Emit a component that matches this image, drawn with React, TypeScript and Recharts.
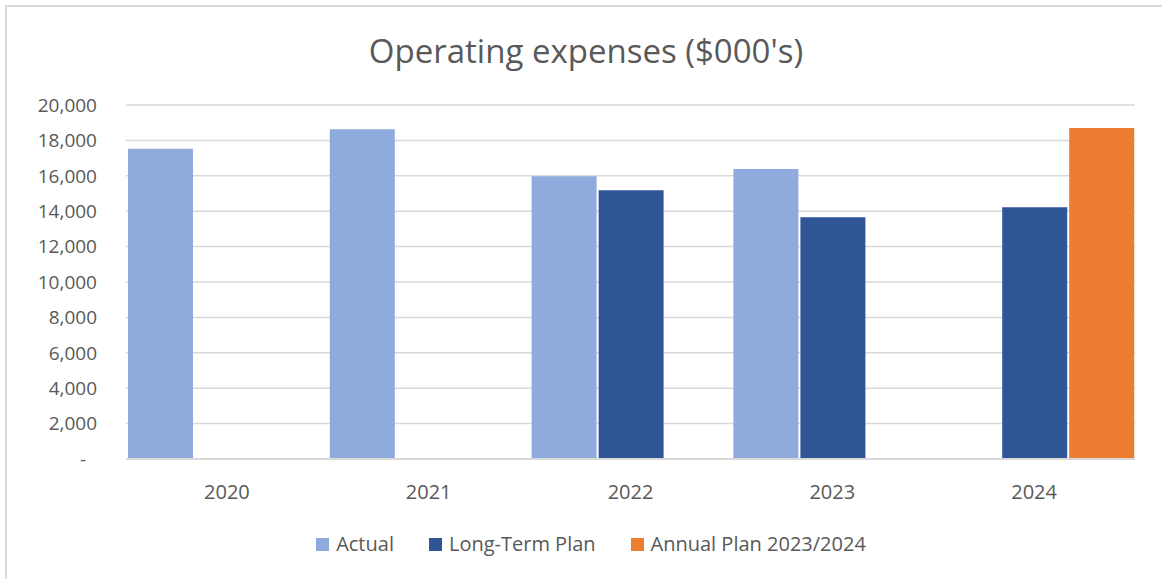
import React from "react";
import { BarChart, Bar, XAxis, YAxis, CartesianGrid } from "recharts";

const years = ["2020", "2021", "2022", "2023", "2024"];
const actual = [17530, 18630, 15970, 16380, null];
const longTermPlan = [null, null, 15180, 13660, 14220];
const annualPlan = [null, null, null, null, 18700];
const yTicks = [0, 2000, 4000, 6000, 8000, 10000, 12000, 14000, 16000, 18000, 20000];

const seriesNames = ["Actual", "Long-Term Plan", "Annual Plan 2023/2024"];
const seriesColors = ["#8faadc", "#2f5597", "#ed7d31"];

const data = years.map((y, i) => ({
  year: y,
  actual: actual[i],
  ltp: longTermPlan[i],
  annual: annualPlan[i],
}));

const FONT = "'Open Sans', 'Liberation Sans', sans-serif";
const TEXT = "#595959";

const YTick = (props: any) => {
  const { x, y, payload } = props;
  const v = payload.value as number;
  const label = v === 0 ? "-" : v.toLocaleString("en-US");
  return (
    <text
      x={v === 0 ? x - 11 : x}
      y={y}
      dy="0.355em"
      textAnchor="end"
      fill={TEXT}
      fontSize={19}
      fontFamily={FONT}
    >
      {label}
    </text>
  );
};

export default function App() {
  return (
    <div
      style={{
        position: "absolute",
        left: 0,
        top: 0,
        width: 1162,
        height: 579,
        background: "#ffffff",
        overflow: "hidden",
      }}
    >
      <div
        style={{
          position: "absolute",
          left: 5,
          top: 5,
          width: 1200,
          height: 620,
          borderTop: "2px solid #d9d9d9",
          borderLeft: "2px solid #d9d9d9",
        }}
      />
      <div
        style={{
          position: "absolute",
          left: 0,
          width: 1172,
          top: 29,
          textAlign: "center",
          fontFamily: FONT,
          fontSize: 33,
          color: TEXT,
          lineHeight: "44px",
          whiteSpace: "nowrap",
        }}
      >
        Operating expenses ($000's)
      </div>
      <div style={{ position: "absolute", left: 0, top: 0 }}>
        <BarChart
          width={1162}
          height={579}
          data={data}
          margin={{ top: 105, right: 27, bottom: 90, left: 0 }}
          barCategoryGap={2}
          barGap={2}
        >
          <CartesianGrid
            vertical={false}
            stroke="#d9d9d9"
            strokeWidth={1.5}
          />
          <XAxis
            dataKey="year"
            height={30}
            tickLine={false}
            tickSize={0}
            tickMargin={26}
            axisLine={{ stroke: "#d9d9d9", strokeWidth: 2 }}
            tick={{ fill: TEXT, fontSize: 20, fontFamily: FONT }}
          />
          <YAxis
            width={126}
            domain={[0, 20000]}
            ticks={yTicks}
            interval={0}
            axisLine={false}
            tickLine={false}
            tickSize={0}
            tickMargin={29}
            tick={<YTick />}
          />
          <Bar dataKey="actual" name={seriesNames[0]} fill={seriesColors[0]} isAnimationActive={false} />
          <Bar dataKey="ltp" name={seriesNames[1]} fill={seriesColors[1]} isAnimationActive={false} />
          <Bar dataKey="annual" name={seriesNames[2]} fill={seriesColors[2]} isAnimationActive={false} />
        </BarChart>
      </div>
      <div
        style={{
          position: "absolute",
          left: 0,
          width: 1182,
          top: 530,
          display: "flex",
          justifyContent: "center",
          gap: 35,
          fontFamily: FONT,
          fontSize: 20,
          color: TEXT,
          lineHeight: "28px",
        }}
      >
        {seriesNames.map((n, i) => (
          <div key={n} style={{ display: "flex", alignItems: "center" }}>
            <span
              style={{
                display: "inline-block",
                width: 13,
                height: 13,
                background: seriesColors[i],
                marginRight: 7,
              }}
            />
            <span>{n}</span>
          </div>
        ))}
      </div>
    </div>
  );
}
